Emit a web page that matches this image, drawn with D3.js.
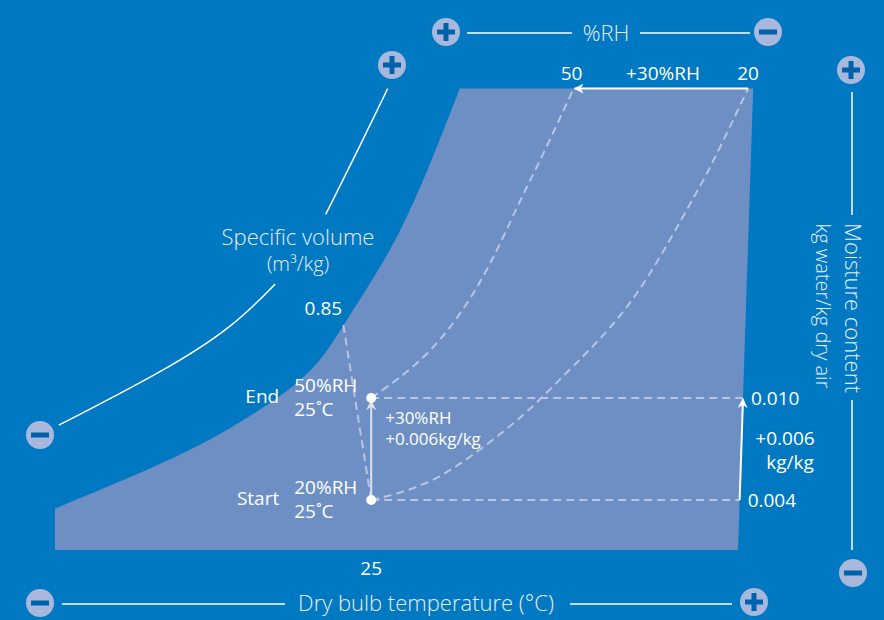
<!DOCTYPE html>
<html>
<head>
<meta charset="utf-8">
<script src="https://cdn.jsdelivr.net/npm/d3@7"></script>
<style>
  body { margin: 0; background: #0079c2; }
  svg { display: block; font-family: "Open Sans", "Noto Sans", sans-serif; }
</style>
</head>
<body>
<svg id="chart"></svg>
<script>
/* global d3 */

// saturation (100%RH) boundary
var satTemp = [0, 5.9, 11.5, 15.4, 18.6, 21, 22.9, 24.9, 27.3, 29.6, 32];
var satMoist = [0.0035, 0.0053, 0.0072, 0.0089, 0.0105, 0.0121, 0.0144, 0.0167, 0.0197, 0.0236, 0.0282];

// 50%RH and 20%RH curves
var rh50Temp = [25, 29.2, 32.6, 35, 36.8, 38.4, 41];
var rh50Moist = [0.010, 0.0122, 0.0154, 0.0187, 0.0217, 0.024, 0.0282];
var rh20Temp = [25, 29.4, 33.4, 37.3, 39.9, 43.9, 47, 50.4, 51.6, 54.8];
var rh20Moist = [0.004, 0.0048, 0.0068, 0.0091, 0.0111, 0.014, 0.0171, 0.0217, 0.0232, 0.0282];

// specific volume 0.85 line
var volTemp = [22.8, 25];
var volMoist = [0.0143, 0.004];

// process states
var stateNames = ["Start", "End"];
var stateTemp = [25, 25];
var stateMoist = [0.004, 0.010];
var stateRH = ["20%RH", "50%RH"];
var stateT = ["25˚C", "25˚C"];

// chart frame
var chartTopMoist = 0.0282, chartBottomMoist = 0.00106;
var edgeTopTemp = 55.2, edgeBottomTemp = 54;

// tick labels
var tempTicks = [25];
var moistTicks = [0.004, 0.010];
var moistTickLabels = ["0.004", "0.010"];
var rhTickLabels = ["20", "50"];
var volTickLabel = "0.85";

// specific volume guide (lower and upper pieces)
var guideLowTemp = [0.3, 8.9, 14.1, 17.4];
var guideLowMoist = [0.0084, 0.0117, 0.0142, 0.0167];
var guideHighTemp = [21.4, 24.1, 26.3];
var guideHighMoist = [0.0208, 0.0248, 0.0282];

var width = 884, height = 620;
var bg = "#0079c2", areaFill = "#6e8fc4", dashCol = "#b9c5e2", iconFill = "#a8b8dc", iconMark = "#0062aa";

var svg = d3.select("#chart").attr("width", width).attr("height", height);
svg.append("rect").attr("width", width).attr("height", height).attr("fill", bg);

var x = d3.scaleLinear().domain([0, 54]).range([55, 738]);
var y = d3.scaleLinear().domain([0, 0.03]).range([568, 58]);
var edge = d3.scaleLinear().domain([chartBottomMoist, chartTopMoist]).range([edgeBottomTemp, edgeTopTemp]);

var line = d3.line().x(function(d){ return x(d[0]); }).y(function(d){ return y(d[1]); });
var smooth = d3.line().x(function(d){ return x(d[0]); }).y(function(d){ return y(d[1]); }).curve(d3.curveBasis);
function zip(a, b) { return a.map(function(v, i){ return [v, b[i]]; }); }

var defs = svg.append("defs");
function marker(id, col) {
    defs.append("marker").attr("id", id).attr("viewBox", "0 0 10 10")
        .attr("refX", 9).attr("refY", 5).attr("markerWidth", 5).attr("markerHeight", 5)
        .attr("markerUnits", "strokeWidth").attr("orient", "auto")
        .append("path").attr("d", "M0,0 L10,5 L0,10 L3,5 Z").attr("fill", col);
}
marker("arrW", "#ffffff");
marker("arrG", "#dde2ee");

// chart area
var sat = zip(satTemp, satMoist);
var areaPath = "M" + x(0) + "," + y(chartBottomMoist) + smooth(sat).replace("M", "L") +
    "L" + x(edgeTopTemp) + "," + y(chartTopMoist) + "L" + x(edgeBottomTemp) + "," + y(chartBottomMoist) + "Z";
svg.append("path").attr("d", areaPath).attr("fill", areaFill);

// dashed guides
var dashG = svg.append("g").attr("fill", "none").attr("stroke", dashCol).attr("stroke-width", 2).attr("stroke-dasharray", "8,5");
dashG.append("path").attr("d", smooth(zip(rh50Temp, rh50Moist)));
dashG.append("path").attr("d", smooth(zip(rh20Temp, rh20Moist)));
dashG.append("path").attr("d", line(zip(volTemp, volMoist)));
stateMoist.forEach(function(m, i) {
    dashG.append("path").attr("d", line([[stateTemp[i], m], [edge(m), m]]));
});

// process arrow
svg.append("line")
    .attr("x1", x(stateTemp[0])).attr("y1", y(stateMoist[0]) - 4)
    .attr("x2", x(stateTemp[1])).attr("y2", y(stateMoist[1]) + 3)
    .attr("stroke", "#dde2ee").attr("stroke-width", 2).attr("marker-end", "url(#arrG)");

// moisture arrow along the right edge
svg.append("line")
    .attr("x1", x(edge(stateMoist[0]))).attr("y1", y(stateMoist[0]))
    .attr("x2", x(edge(stateMoist[1]))).attr("y2", y(stateMoist[1]) + 1)
    .attr("stroke", "#ffffff").attr("stroke-width", 2).attr("marker-end", "url(#arrW)");

// RH arrow along the top
svg.append("line")
    .attr("x1", x(rh20Temp[rh20Temp.length - 1])).attr("y1", y(chartTopMoist))
    .attr("x2", x(rh50Temp[rh50Temp.length - 1]) + 1).attr("y2", y(chartTopMoist))
    .attr("stroke", "#ffffff").attr("stroke-width", 2).attr("marker-end", "url(#arrW)");

// state dots
svg.selectAll(".state").data(stateNames).enter().append("circle")
    .attr("cx", function(d, i){ return x(stateTemp[i]); })
    .attr("cy", function(d, i){ return y(stateMoist[i]); })
    .attr("r", 5).attr("fill", "#ffffff");

// labels
var lab = svg.append("g").attr("fill", "#ffffff").attr("font-size", 19);
function txt(g, s, px, py, anchor, size) {
    return g.append("text").attr("x", px).attr("y", py).attr("dy", "0.35em")
        .attr("text-anchor", anchor || "start").attr("font-size", size || null).text(s);
}
stateNames.forEach(function(n, i) {
    var px = x(stateTemp[i]), py = y(stateMoist[i]);
    txt(lab, n, px - 92, py - 2, "end");
    txt(lab, stateRH[i], px - 77, py - 13);
    txt(lab, stateT[i], px - 77, py + 11);
});
txt(lab, "+30%RH", x(25) + 14, y(0.010) + 20, "start", 17);
txt(lab, "+0.006kg/kg", x(25) + 14, y(0.010) + 41, "start", 17);

moistTicks.forEach(function(m, i) {
    txt(lab, moistTickLabels[i], x(edge(m)) + 8, y(m));
});
txt(lab, "+0.006", 785, (y(0.010) + y(0.004)) / 2 - 11, "middle");
txt(lab, "kg/kg", 790, (y(0.010) + y(0.004)) / 2 + 13, "middle");

tempTicks.forEach(function(t) { txt(lab, String(t), x(t), 568, "middle"); });
txt(lab, rhTickLabels[0], x(rh20Temp[rh20Temp.length - 1]), 73, "middle");
txt(lab, rhTickLabels[1], x(rh50Temp[rh50Temp.length - 1]) - 2, 73, "middle");
txt(lab, "+30%RH", 663, 73, "middle");
txt(lab, volTickLabel, x(volTemp[0]) - 20, y(volMoist[0]) - 17, "middle");

// axis titles and guide lines
var title = svg.append("g").attr("fill", "#e8eef8").attr("font-size", 22).attr("font-weight", 300);
var guide = svg.append("g").attr("stroke", "#ffffff").attr("stroke-width", 1.5).attr("fill", "none");

txt(title, "%RH", 606, 33, "middle");
guide.append("line").attr("x1", 467).attr("x2", 572).attr("y1", 33).attr("y2", 33);
guide.append("line").attr("x1", 640).attr("x2", 750).attr("y1", 33).attr("y2", 33);

txt(title, "Dry bulb temperature (°C)", 426, 603, "middle");
guide.append("line").attr("x1", 62).attr("x2", 285).attr("y1", 604).attr("y2", 604);
guide.append("line").attr("x1", 570).attr("x2", 732).attr("y1", 604).attr("y2", 604);

title.append("text").attr("transform", "translate(853,308) rotate(90)").attr("dy", "0.35em")
    .attr("text-anchor", "middle").text("Moisture content");
title.append("text").attr("transform", "translate(823,306) rotate(90)").attr("dy", "0.35em")
    .attr("text-anchor", "middle").attr("font-size", 20).text("kg water/kg dry air");
guide.append("line").attr("x1", 852).attr("x2", 852).attr("y1", 92).attr("y2", 215);
guide.append("line").attr("x1", 852).attr("x2", 852).attr("y1", 400).attr("y2", 550);

txt(title, "Specific volume", 298, 237, "middle");
txt(title, "(m³/kg)", 298, 264, "middle", 20);
guide.append("path").attr("d", smooth(zip(guideLowTemp, guideLowMoist)));
guide.append("path").attr("d", smooth(zip(guideHighTemp, guideHighMoist)));

// plus / minus icons
var icons = [
    {cx: 446, cy: 32, plus: true}, {cx: 768, cy: 32, plus: false},
    {cx: 851, cy: 70, plus: true}, {cx: 853, cy: 573, plus: false},
    {cx: 40, cy: 603, plus: false}, {cx: 754, cy: 602, plus: true},
    {cx: 40, cy: 435, plus: false}, {cx: 392, cy: 65, plus: true}
];
var ic = svg.selectAll(".icon").data(icons).enter().append("g")
    .attr("transform", function(d){ return "translate(" + d.cx + "," + d.cy + ")"; });
ic.append("circle").attr("r", 14).attr("fill", iconFill);
ic.append("rect").attr("x", -9).attr("y", -2.5).attr("width", 18).attr("height", 5).attr("fill", iconMark);
ic.filter(function(d){ return d.plus; }).append("rect")
    .attr("x", -2.5).attr("y", -9).attr("width", 5).attr("height", 18).attr("fill", iconMark);
</script>
</body>
</html>
